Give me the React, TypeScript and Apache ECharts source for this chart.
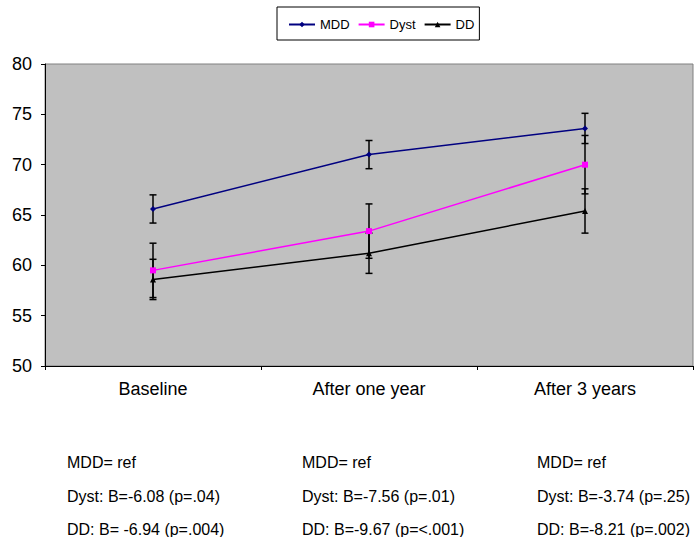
import React, { useEffect, useRef } from "react";
import * as echarts from "echarts";

const categories = ["Baseline", "After one year", "After 3 years"];
const yTicks = [50, 55, 60, 65, 70, 75, 80];

const mddValues = [65.6, 71.0, 73.6];
const mddErrors = [1.4, 1.4, 1.5];
const dystValues = [59.5, 63.4, 70.0];
const dystErrors = [2.7, 2.7, 2.9];
const ddValues = [58.6, 61.2, 65.4];
const ddErrors = [2.0, 2.0, 2.2];

const notesCol1 = ["MDD= ref", "Dyst: B=-6.08 (p=.04)", "DD: B= -6.94 (p=.004)"];
const notesCol2 = ["MDD= ref", "Dyst: B=-7.56 (p=.01)", "DD: B=-9.67 (p=<.001)"];
const notesCol3 = ["MDD= ref", "Dyst: B=-3.74 (p=.25)", "DD: B=-8.21 (p=.002)"];

const FONT = "'Liberation Sans', Arial, sans-serif";

function errorSeries(name: string, values: number[], errors: number[]) {
  return {
    type: "custom",
    name: name + "-err",
    z: 3,
    silent: true,
    encode: { x: 0, y: 1 },
    data: values.map((v, i) => [i, v, errors[i]]),
    renderItem: (_params: any, api: any) => {
      const x = api.value(0);
      const y = api.value(1);
      const e = api.value(2);
      const top = api.coord([x, y + e]);
      const bot = api.coord([x, y - e]);
      const hw = 3.5;
      const st = { stroke: "#000", lineWidth: 1.5 };
      return {
        type: "group",
        children: [
          { type: "line", shape: { x1: top[0], y1: top[1], x2: bot[0], y2: bot[1] }, style: st },
          { type: "line", shape: { x1: top[0] - hw, y1: top[1], x2: top[0] + hw, y2: top[1] }, style: st },
          { type: "line", shape: { x1: bot[0] - hw, y1: bot[1], x2: bot[0] + hw, y2: bot[1] }, style: st },
        ],
      };
    },
  };
}

function noteTexts(lines: string[], x: number) {
  const ys = [463, 497, 530];
  return lines.map((t, i) => ({
    type: "text",
    left: x,
    top: ys[i] - 9,
    style: { text: t, fill: "#000", font: `16px ${FONT}` },
  }));
}

export default function App() {
  const ref = useRef<HTMLDivElement>(null);
  useEffect(() => {
    if (!ref.current) return;
    const chart = echarts.init(ref.current, undefined, { renderer: "svg" });
    chart.setOption({
      animation: false,
      backgroundColor: "#fff",
      textStyle: { fontFamily: FONT },
      legend: {
        data: ["MDD", "Dyst", "DD"],
        left: 277,
        top: 7,
        padding: [11, 5, 9, 11],
        itemGap: 8,
        itemWidth: 26,
        itemHeight: 7,
        borderColor: "#000",
        borderWidth: 1,
        textStyle: { fontSize: 13, color: "#000", fontFamily: FONT },
      },
      grid: {
        left: 45,
        right: 5,
        top: 64,
        bottom: 171,
        show: true,
        backgroundColor: "#c0c0c0",
        borderColor: "#808080",
        borderWidth: 1,
      },
      xAxis: {
        type: "category",
        data: categories,
        boundaryGap: true,
        axisLine: { lineStyle: { color: "#000", width: 1 } },
        axisTick: { show: true, length: 4, lineStyle: { color: "#000" } },
        axisLabel: { color: "#000", fontSize: 18, margin: 14, fontFamily: FONT },
      },
      yAxis: {
        type: "value",
        min: yTicks[0],
        max: yTicks[yTicks.length - 1],
        interval: 5,
        splitLine: { show: false },
        axisLine: { show: true, lineStyle: { color: "#000", width: 1 } },
        axisTick: { show: true, length: 4, lineStyle: { color: "#000" } },
        axisLabel: { color: "#000", fontSize: 18, margin: 13, fontFamily: FONT },
      },
      series: [
        errorSeries("MDD", mddValues, mddErrors),
        errorSeries("Dyst", dystValues, dystErrors),
        errorSeries("DD", ddValues, ddErrors),
        {
          type: "line",
          name: "MDD",
          z: 4,
          data: mddValues,
          symbol: "diamond",
          symbolSize: 6,
          lineStyle: { color: "#000080", width: 1.5 },
          itemStyle: { color: "#000080" },
        },
        {
          type: "line",
          name: "Dyst",
          z: 4,
          data: dystValues,
          symbol: "rect",
          symbolSize: 6,
          lineStyle: { color: "#ff00ff", width: 1.5 },
          itemStyle: { color: "#ff00ff" },
        },
        {
          type: "line",
          name: "DD",
          z: 4,
          data: ddValues,
          symbol: "triangle",
          symbolSize: 6,
          lineStyle: { color: "#000", width: 1.5 },
          itemStyle: { color: "#000" },
        },
      ],
      graphic: [
        ...noteTexts(notesCol1, 67),
        ...noteTexts(notesCol2, 302),
        ...noteTexts(notesCol3, 537),
      ],
    });
    return () => chart.dispose();
  }, []);
  return <div ref={ref} style={{ width: 698, height: 537, position: "absolute", left: 0, top: 0 }} />;
}
